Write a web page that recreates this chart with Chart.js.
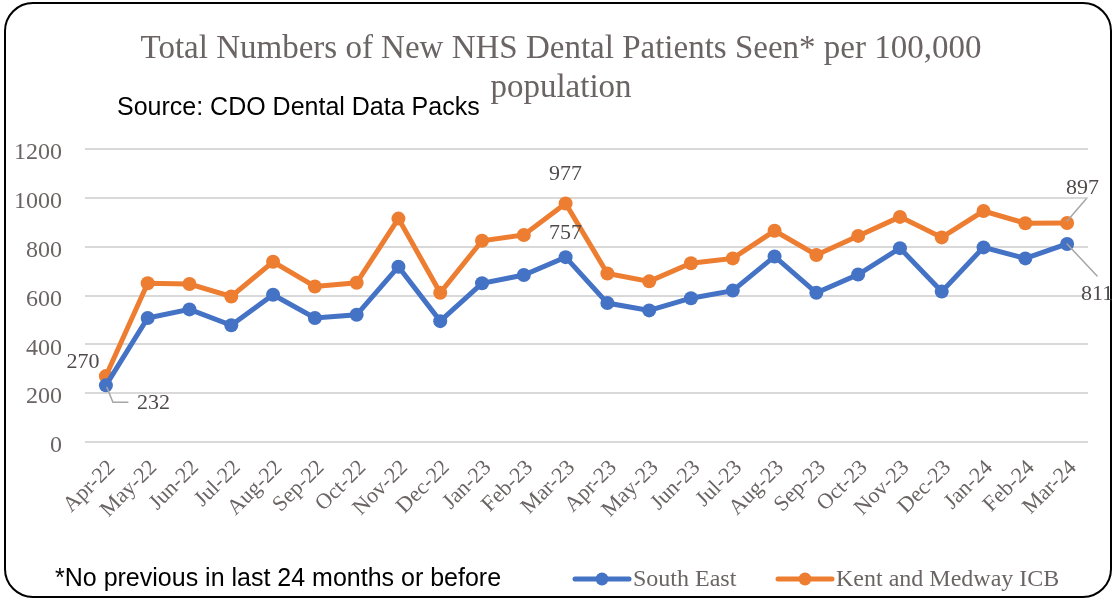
<!DOCTYPE html>
<html>
<head>
<meta charset="utf-8">
<script src="https://cdn.jsdelivr.net/npm/chart.js@4.4.1/dist/chart.umd.min.js"></script>
<style>
  html, body { margin: 0; padding: 0; background: #ffffff; }
  #wrap { width: 1115px; height: 599px; }
</style>
</head>
<body>
<div id="wrap"><canvas id="myChart" width="1115" height="599"></canvas></div>
<script>
const months = ["Apr-22", "May-22", "Jun-22", "Jul-22", "Aug-22", "Sep-22", "Oct-22", "Nov-22",
  "Dec-22", "Jan-23", "Feb-23", "Mar-23", "Apr-23", "May-23", "Jun-23", "Jul-23", "Aug-23",
  "Sep-23", "Oct-23", "Nov-23", "Dec-23", "Jan-24", "Feb-24", "Mar-24"];
const southEast = [232, 508, 543, 478, 603, 508, 521, 718, 495, 650, 684, 757,
  569, 539, 589, 620, 760, 611, 686, 794, 616, 797, 752, 811];
const kentMedway = [270, 650, 647, 596, 738, 637, 652, 915, 611, 824, 848, 977,
  690, 658, 732, 752, 865, 766, 844, 922, 838, 946, 896, 897];
const yTicks = [0, 200, 400, 600, 800, 1000, 1200];

const BLUE = "#4472C4";
const ORANGE = "#ED7D31";
const TXT = "#6b6464";
const SERIF = "'Liberation Serif', 'DejaVu Serif', serif";
const SANS = "'Liberation Sans', sans-serif";

// frame, titles, footnote, legend and the few value labels
const decor = {
  id: "decor",
  beforeDraw(chart) {
    const c = chart.ctx;
    c.save();
    c.fillStyle = "#fff";
    c.fillRect(0, 0, chart.width, chart.height);
    c.beginPath();
    c.roundRect(5, 3, 1106, 594, 28);
    c.lineWidth = 2;
    c.strokeStyle = "#000";
    c.stroke();
    c.restore();
  },
  afterDraw(chart) {
    const c = chart.ctx;
    c.save();
    c.textBaseline = "middle";
    c.textAlign = "center";
    c.fillStyle = TXT;
    c.font = "33px " + SERIF;
    c.fillText("Total Numbers of New NHS Dental Patients Seen* per 100,000", 561, 49);
    c.fillText("population", 561, 88);

    c.textAlign = "left";
    c.fillStyle = "#000";
    c.font = "25px " + SANS;
    c.fillText("Source: CDO Dental Data Packs", 117, 108);
    c.fillText("*No previous in last 24 months or before", 55, 579);

    // legend
    c.font = "24px " + SERIF;
    [[BLUE, "South East", 575], [ORANGE, "Kent and Medway ICB", 778]].forEach(([col, txt, x]) => {
      c.strokeStyle = col;
      c.lineWidth = 5;
      c.lineCap = "round";
      c.beginPath();
      c.moveTo(x, 579);
      c.lineTo(x + 54, 579);
      c.stroke();
      c.fillStyle = col;
      c.beginPath();
      c.arc(x + 27, 579, 6.5, 0, Math.PI * 2);
      c.fill();
      c.fillStyle = TXT;
      c.fillText(txt, x + 58, 580);
    });

    // data labels
    const se = chart.getDatasetMeta(0).data;
    const km = chart.getDatasetMeta(1).data;
    const last = months.length - 1;
    const peak = 11;
    c.font = "22px " + SERIF;
    c.fillStyle = "#504a4a";
    c.textAlign = "center";
    c.fillText(String(kentMedway[0]), km[0].x - 23, km[0].y - 14);
    c.fillText(String(kentMedway[peak]), km[peak].x, km[peak].y - 29);
    c.fillText(String(southEast[peak]), se[peak].x, se[peak].y - 24);
    c.textAlign = "left";
    c.fillText(String(southEast[0]), se[0].x + 31, se[0].y + 18);
    c.fillText(String(kentMedway[last]), km[last].x - 1, km[last].y - 35);
    c.fillText(String(southEast[last]), se[last].x + 14, se[last].y + 50);

    c.strokeStyle = "#a6a6a6";
    c.lineWidth = 1.5;
    c.beginPath();
    c.moveTo(se[0].x + 1, se[0].y + 2);
    c.lineTo(se[0].x + 7, se[0].y + 17);
    c.lineTo(se[0].x + 22, se[0].y + 17);
    c.moveTo(km[last].x, km[last].y - 2);
    c.lineTo(km[last].x + 19, km[last].y - 24);
    c.moveTo(se[last].x, se[last].y);
    c.lineTo(se[last].x + 30, se[last].y + 32);
    c.stroke();
    c.restore();
  }
};

const ctx = document.getElementById("myChart");
const myChart = new Chart(ctx, {
  type: "line",
  data: {
    labels: months,
    datasets: [
      {
        label: "South East",
        data: southEast,
        borderColor: BLUE,
        backgroundColor: BLUE,
        borderWidth: 5,
        pointRadius: 7,
        pointBorderWidth: 0,
        tension: 0,
      },
      {
        label: "Kent and Medway ICB",
        data: kentMedway,
        borderColor: ORANGE,
        backgroundColor: ORANGE,
        borderWidth: 5,
        pointRadius: 7,
        pointBorderWidth: 0,
        tension: 0,
      },
    ],
  },
  options: {
    responsive: false,
    animation: false,
    devicePixelRatio: 1,
    layout: { padding: { top: 149, right: 27, bottom: 0, left: 0 } },
    plugins: {
      legend: { display: false },
      title: { display: false },
      tooltip: { enabled: false },
    },
    scales: {
      x: {
        offset: true,
        grid: { display: false, drawTicks: false },
        border: { display: false },
        ticks: {
          autoSkip: false,
          minRotation: 45,
          maxRotation: 45,
          padding: 13,
          labelOffset: 6,
          color: TXT,
          font: { family: SERIF, size: 22 },
        },
        afterFit(scale) { scale.height = 157; },
      },
      y: {
        min: 0,
        max: 1200,
        afterBuildTicks(scale) { scale.ticks = yTicks.map(v => ({ value: v })); },
        grid: { color: "#d9d9d9", lineWidth: 2, drawTicks: false },
        border: { display: false },
        ticks: {
          padding: 23,
          labelOffset: 4,
          color: TXT,
          font: { family: SERIF, size: 24 },
          callback: (v) => String(v),
        },
        afterFit(scale) { scale.width = 85; },
      },
    },
  },
  plugins: [decor],
});
</script>
</body>
</html>
